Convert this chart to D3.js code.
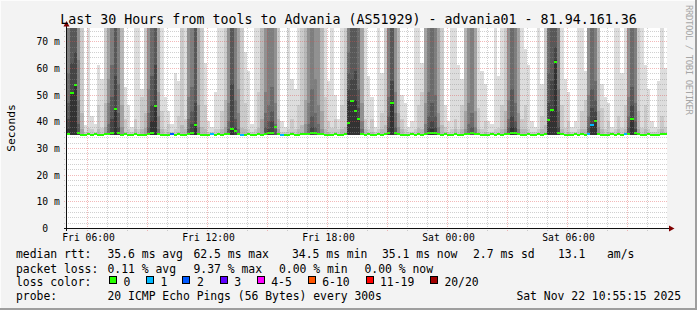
<!DOCTYPE html>
<html><head><meta charset="utf-8">
<script src="https://cdn.jsdelivr.net/npm/d3@7"></script>
<style>
html,body{margin:0;padding:0;background:#f3f3f3;}
svg{display:block;}
text{font-family:"DejaVu Sans Mono",monospace;fill:#000;}
.ylab text{white-space:pre;}
</style></head><body>
<svg id="c" width="697" height="310"></svg>
<script>
// ---------------- DATA ----------------
const title = "Last 30 Hours from tools to Advania (AS51929) - advania01 - 81.94.161.36";
const yAxisTitle = "Seconds";
const watermark = "RRDTOOL / TOBI OETIKER";
const startTime = Date.UTC(2025, 10, 21, 5, 0, 0);   // Fri 05:00
const endTime   = Date.UTC(2025, 10, 22, 11, 0, 0);  // Sat 11:00
const stepMinutes = 10;
const yMax = 75;                 // ms, top of chart
const yTickValues = [0, 10, 20, 30, 40, 50, 60, 70];
const yTickLabels = ["0  ", "10 m", "20 m", "30 m", "40 m", "50 m", "60 m", "70 m"];
const lowRtt = 34.8;             // fastest pings of each round (ms)

// median rtt per 10-minute sample (ms)
const median = [
  35.2,50.7,53.6,35.6,35.0,34.9,35.1,35.0,35.3,35.0,34.9,35.1,
  35.3,35.8,44.5,35.5,35.0,35.1,34.9,35.0,35.2,35.0,34.9,35.0,
  35.2,35.6,45.7,35.4,35.0,34.9,35.0,35.1,35.0,35.2,35.0,34.9,
  35.1,35.5,38.6,35.3,35.0,35.0,34.9,35.1,35.0,35.2,35.0,35.1,
  35.4,37.0,36.5,35.2,35.0,34.9,35.1,35.0,35.0,35.2,34.9,35.3,
  35.5,35.6,37.8,35.2,35.0,34.9,35.0,35.1,35.0,34.9,35.1,35.2,
  35.4,35.6,35.5,35.3,35.1,35.0,34.9,35.0,35.1,35.0,34.9,35.1,
  39.5,47.5,44.0,41.0,35.3,35.0,35.1,34.9,35.0,35.2,35.0,35.1,
  35.5,47.0,35.6,35.2,35.0,34.9,35.0,35.1,35.0,35.2,35.0,35.3,
  35.5,35.7,35.6,35.3,35.0,35.1,34.9,35.0,35.2,35.0,34.9,35.2,
  35.4,35.5,35.3,35.1,35.0,34.9,35.0,35.1,35.0,35.2,35.0,35.1,
  35.4,35.6,35.5,35.3,35.0,34.9,35.1,35.0,35.0,35.2,34.9,35.1,
  40.5,44.2,62.4,35.6,35.1,35.0,34.9,35.0,35.1,35.0,35.2,35.0,
  35.2,38.6,40.0,35.3,35.0,34.9,35.0,35.1,35.0,35.2,35.0,35.1,
  35.4,40.7,35.6,35.2,35.0,34.9,35.1,35.0,35.0,34.9,35.1,35.1
];
// lost pings (of 20) per sample
const loss = [
  0,0,0,0,0,0,0,0,0,0,0,0,
  0,0,0,0,0,0,0,0,0,0,0,0,
  0,0,0,0,0,0,0,2,0,0,0,0,
  0,0,0,0,0,0,0,1,0,0,0,0,
  0,0,0,0,1,0,0,0,0,0,0,0,
  0,0,0,0,1,0,0,0,0,0,0,0,
  0,0,0,0,0,0,0,0,0,0,0,0,
  0,0,0,0,0,0,0,0,0,0,0,0,
  0,0,0,0,0,0,0,0,0,0,0,0,
  0,0,0,0,0,0,0,0,0,0,0,0,
  0,0,0,0,0,0,0,0,0,0,0,0,
  0,0,0,0,0,0,0,0,0,0,0,0,
  0,0,0,0,0,0,0,0,0,0,0,0,
  1,1,0,0,0,0,0,0,0,0,0,1,
  0,0,0,0,0,0,0,0,0,0,0,0
];
// number of pings per sample that went above the top of the chart (> 75 ms)
const offChart = [
  6,8,8,5,2,0,1,0,0,0,0,2,
  4,6,8,6,3,0,0,0,1,1,0,2,
  5,7,8,4,1,0,0,0,0,0,2,1,
  5,6,8,4,2,0,0,0,0,1,1,2,
  5,8,6,4,2,0,0,0,1,1,3,5,
  6,6,5,2,0,0,1,0,0,1,2,3,
  5,6,5,5,3,1,0,1,0,0,1,2,
  6,8,8,7,4,1,0,0,0,1,0,2,
  6,8,5,3,0,0,0,0,1,1,0,4,
  6,7,6,4,2,0,0,1,1,0,0,3,
  5,6,4,1,0,0,0,0,1,0,1,2,
  5,7,6,4,1,0,0,0,0,1,0,2,
  7,8,8,6,1,0,0,0,0,1,1,0,
  5,7,6,3,0,0,0,0,1,1,0,1,
  5,7,6,2,1,0,0,0,0,0,1,0
];
// other slow pings per sample that stayed inside the chart (ms, descending)
const elevated = [
  [58,47,41,37],[62,51,38],[66,54,39],[63,48,39,36],[43,37],[38.5,36],[37.5],[42,37],[39,36],[61,46,37],[56,37.5],[47,38],
  [56,47,39],[61,49,41],[57,44.5,38],[54,43,38],[46,38],[53,41,36],[46,37],[38,36],[41,37],[37],[52,49,37],[43,37.5],
  [52,43,38],[57,46,40],[61,46,39],[51,42,37],[44,37],[49,37],[44,39,36],[39,36],[58,37],[55,42,36],[38.5],[41,37],
  [49,41,37],[53,44,39],[47,39,37],[46,38],[38],[62,46,37],[40,36],[38,36],[51,37],[37],[44,37],[48,38],
  [47,40,37],[54,37.5],[48,41,38],[52,43,37],[37.5],[66,47,37],[59,37],[39,36],[37],[51,37.5],[41],[51,43,38],
  [46,40,37],[53,44,40],[47,39,37],[41,37],[40,36],[38,36],[37],[56,41,36],[52,37],[46,37],[38.5],[48,39],
  [47,39],[52,42,38],[56,43,38],[46,39],[44,37],[49,37],[55,40,36],[37.5],[50,41,36],[41,37],[46,37],[38],
  [66,58,52,48],[56,48,40],[59,48,41],[52,45,41],[47,40,37],[41,37],[57,37],[49,41,36],[38,36],[37],[58,43,37],[38.5],
  [49,42,38],[55,47,39],[51,43,38],[43,38],[50,41,37],[47,37],[38,36],[40,36],[37],[46,37.5],[62,51,37],[47,39],
  [51,42,38],[47,40,37],[50,42,38],[43,38],[38.5],[46,38,36],[40,36],[37],[41,37],[61,37],[56,46,37],[44,37],
  [47,39],[43,38],[44,38],[45,37],[59,37],[54,40,36],[40,36],[39,36],[37],[57,37.5],[46,37],[44,37],
  [48,41,38],[52,42,38],[47,40,38],[43,37],[41,37],[67,46,37],[61,37],[40,36],[38,36],[37],[54,42,37],[38.5],
  [58,47,41],[55,44.5],[68,63],[52,44,38],[46,37],[56,37.5],[51,40,36],[38,36],[40,36],[37],[44,37],[59,48,37],
  [50,42,38],[52,45,39],[55,48,44,41],[44,38],[54,45,37],[49,37],[47,40,36],[38,36],[37],[42,37],[58,37.5],[46,37],
  [49,42,38],[53,46,41],[47,40,37],[44,37],[37.5],[61,46,37],[52,37],[40,36],[38,36],[55,37],[42,37],[60,38]
];

const lossLegendLabels = ["0", "1", "2", "3", "4-5", "6-10", "11-19", "20/20"];
const lossLegendColors = ["#26ff00", "#00b8ff", "#0059ff", "#5e00ff", "#ff00ff", "#ff5500", "#ff0000", "#a10000"];
const rttStats = [35.6, 62.5, 34.5, 35.1];
const rttStatNames = ["avg", "max", "min", "now"];
const rttSd = 2.7;
const rttAmS = 13.1;
const lossStats = [0.11, 9.37, 0.00, 0.00];
const lossStatNames = ["avg", "max", "min", "now"];
const probeText = "20 ICMP Echo Pings (56 Bytes) every 300s";
const stampText = "Sat Nov 22 10:55:15 2025";

// ---------------- LAYOUT ----------------
const W = 697, H = 310;
const P = {left: 67, right: 667, top: 28, bottom: 228};
const svg = d3.select("#c");

svg.append("rect").attr("width", W).attr("height", H).attr("fill", "#f3f3f3");
// 3D frame
svg.append("rect").attr("x", 0).attr("y", 0).attr("width", W).attr("height", 1).attr("fill", "#fcfcfc");
svg.append("rect").attr("x", 0).attr("y", 0).attr("width", 1).attr("height", H).attr("fill", "#fcfcfc");
svg.append("rect").attr("x", 0).attr("y", H - 2).attr("width", W).attr("height", 2).attr("fill", "#9e9e9e");
svg.append("rect").attr("x", W - 2).attr("y", 0).attr("width", 2).attr("height", H).attr("fill", "#9e9e9e");

// canvas
svg.append("rect").attr("x", P.left).attr("y", P.top)
  .attr("width", P.right - P.left).attr("height", P.bottom - P.top).attr("fill", "#ffffff");

const x = d3.scaleTime().domain([new Date(startTime), new Date(endTime)]).range([P.left, P.right]);
const y = d3.scaleLinear().domain([0, yMax]).range([P.bottom, P.top]).clamp(true);
const stepMs = stepMinutes * 60 * 1000;

function smokeShade(band) { // SmokePing smoke colours, band 1 (outer) .. 10 (inner)
  const c = Math.floor(190 / 10 * (10 - band)) + 50;
  return d3.rgb(c, c, c).formatHex();
}
function lossIndex(l) {
  if (l <= 3) return l;
  if (l <= 5) return 4;
  if (l <= 10) return 5;
  if (l <= 19) return 6;
  return 7;
}

// smoke
const gSmoke = svg.append("g").attr("shape-rendering", "crispEdges");
median.forEach((m, i) => {
  const t0 = new Date(startTime + i * stepMs), t1 = new Date(startTime + (i + 1) * stepMs);
  const x0 = Math.round(x(t0)), x1 = Math.round(x(t1));
  const pings = d3.range(offChart[i]).map(() => yMax * 10).concat(elevated[i]).slice(0, 10);
  const yb = Math.round(y(lowRtt));
  pings.forEach((p, k) => {
    const yt = Math.round(y(p));
    if (yb > yt) {
      gSmoke.append("rect").attr("x", x0).attr("y", yt).attr("width", x1 - x0)
        .attr("height", yb - yt).attr("fill", smokeShade(k + 1));
    }
  });
});

// median markers
const gMed = svg.append("g").attr("shape-rendering", "crispEdges");
median.forEach((m, i) => {
  const t0 = new Date(startTime + i * stepMs), t1 = new Date(startTime + (i + 1) * stepMs);
  const x0 = Math.round(x(t0)), x1 = Math.round(x(t1));
  gMed.append("rect").attr("x", x0).attr("y", Math.round(y(m) - 1)).attr("width", x1 - x0)
    .attr("height", 2).attr("fill", lossLegendColors[lossIndex(loss[i])]);
});

// grid (drawn on top, translucent, dotted)
const gGrid = svg.append("g").attr("shape-rendering", "crispEdges").attr("stroke-dasharray", "1,1").attr("stroke-width", 1);
const minorCol = "rgba(143,143,143,0.42)", majorCol = "rgba(222,80,80,0.4)";
d3.range(2, yMax + 1, 2).filter(v => v % 10 !== 0).forEach(v => {
  const yy = Math.round(y(v)) + 0.5;
  gGrid.append("line").attr("x1", P.left - 3).attr("x2", P.right + 1).attr("y1", yy).attr("y2", yy).attr("stroke", minorCol);
});
yTickValues.filter(v => v > 0).forEach(v => {
  const yy = Math.round(y(v)) + 0.5;
  gGrid.append("line").attr("x1", P.left - 3).attr("x2", P.right + 1).attr("y1", yy).attr("y2", yy).attr("stroke", majorCol);
});
x.ticks(d3.utcHour.every(1)).forEach(t => {
  if (+t <= startTime || +t >= endTime) return;
  const xx = Math.round(x(t)) + 0.5;
  const major = t.getUTCHours() % 3 === 0;
  gGrid.append("line").attr("x1", xx).attr("x2", xx).attr("y1", P.top).attr("y2", P.bottom + 3)
    .attr("stroke", major ? majorCol : minorCol);
});

// axes lines + arrows
svg.append("line").attr("x1", P.left - 3).attr("x2", P.right + 2).attr("y1", P.bottom + 0.5).attr("y2", P.bottom + 0.5)
  .attr("stroke", "#101010").attr("shape-rendering", "crispEdges");
svg.append("line").attr("x1", P.left - 0.5).attr("x2", P.left - 0.5).attr("y1", P.bottom + 3).attr("y2", P.top - 2)
  .attr("stroke", "#101010").attr("shape-rendering", "crispEdges");
svg.append("path").attr("d", `M${P.left - 3.5},${P.top - 1.5}L${P.left + 2.5},${P.top - 1.5}L${P.left - 0.5},${P.top - 7}Z`).attr("fill", "#7f0000");
svg.append("path").attr("d", `M${P.right + 2},${P.bottom - 2.5}L${P.right + 2},${P.bottom + 3.5}L${P.right + 7.5},${P.bottom + 0.5}Z`).attr("fill", "#7f0000");

// x tick labels
const xLabelTicks = x.ticks(d3.utcHour.every(6)).filter(t => +t > startTime && +t < endTime);
const gx = svg.append("g").attr("transform", `translate(1,${P.bottom})`)
  .call(d3.axisBottom(x).tickValues(xLabelTicks).tickFormat(d3.utcFormat("%a %H:%M")).tickSize(0).tickPadding(0));
gx.select(".domain").remove();
gx.selectAll("text").attr("y", 12.8).attr("dy", 0).attr("font-family", "DejaVu Sans Mono").attr("font-size", "9.7px").attr("fill", "#000");

// y tick labels
const gy = svg.append("g").attr("class", "ylab").attr("transform", `translate(59.8,0)`)
  .call(d3.axisLeft(y).tickValues(yTickValues).tickFormat((d, i) => yTickLabels[i]).tickSize(0).tickPadding(0));
gy.select(".domain").remove();
gy.selectAll("text").attr("x", 0).attr("dy", "0.37em").attr("font-family", "DejaVu Sans Mono").attr("font-size", "9.7px").attr("fill", "#000");

// title
svg.append("text").attr("x", 348.5).attr("y", 24.2).attr("text-anchor", "middle")
  .attr("font-size", "13.3px").text(title);
// y-axis title
svg.append("text").attr("transform", "translate(15,128) rotate(-90)").attr("text-anchor", "middle")
  .attr("font-size", "11.3px").text(yAxisTitle);
// watermark
svg.append("text").attr("transform", "translate(686,5) rotate(90)")
  .attr("font-size", "9px").attr("textLength", 110).attr("lengthAdjust", "spacing")
  .style("fill", "#a6a6a6").text(watermark);

// legend
const LF = "11.4px";
const rows = [258, 272.5, 286.3, 300.3];
function lt(xp, yp, s, anchor) {
  svg.append("text").attr("x", xp).attr("y", yp).attr("font-size", LF)
    .attr("text-anchor", anchor || "start").style("white-space", "pre").text(s);
}
lt(16, rows[0], "median rtt:");
const rttX = [107.5, 193.5, 292, 382];
rttStats.forEach((v, i) => lt(rttX[i], rows[0], `${v.toFixed(1)} ms ${rttStatNames[i]}`));
lt(473, rows[0], `${rttSd.toFixed(1)} ms sd`);
lt(558, rows[0], `${rttAmS.toFixed(1)}`);
lt(607, rows[0], "am/s");

lt(16, rows[1], "packet loss:");
const lossX = [107.5, 193.5, 279, 364.5];
lossStats.forEach((v, i) => lt(lossX[i], rows[1], `${v.toFixed(2)} % ${lossStatNames[i]}`));

lt(16, rows[2], "loss color:");
const boxX = [109, 145.8, 182.3, 219.5, 257, 307.6, 365.8, 430.2];
const boxLabelX = [123.5, 160.5, 197, 234.2, 271.2, 322.2, 380, 444.4];
lossLegendLabels.forEach((lab, i) => {
  svg.append("rect").attr("x", Math.round(boxX[i]) + 0.5).attr("y", 276.5).attr("width", 7).attr("height", 7)
    .attr("fill", lossLegendColors[i]).attr("stroke", "#000").attr("stroke-width", 1);
  lt(boxLabelX[i], rows[2], lab);
});

lt(16, rows[3], "probe:");
lt(107.5, rows[3], probeText);
lt(681, rows[3], stampText, "end");
</script>
</body></html>
